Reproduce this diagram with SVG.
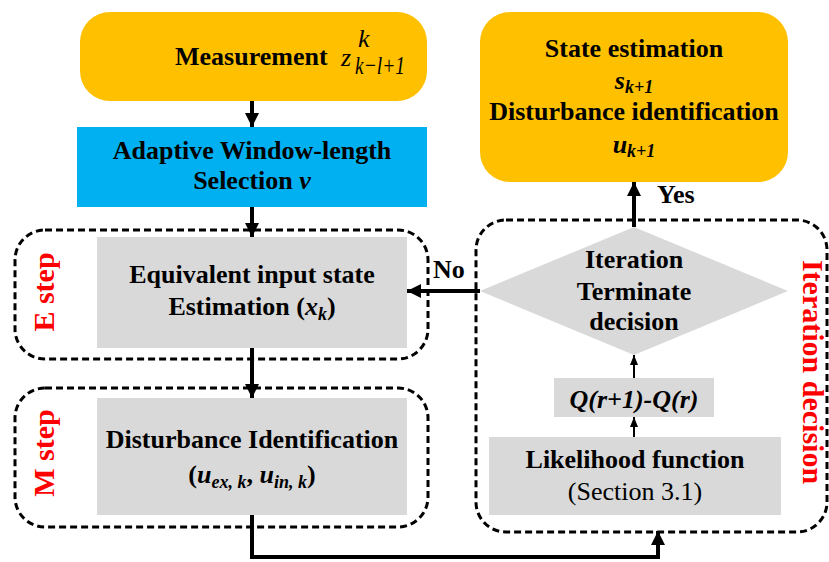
<svg xmlns="http://www.w3.org/2000/svg" width="829" height="562" viewBox="0 0 829 562" font-family="Liberation Serif">
<style>
.t{font-weight:bold;font-size:26px;fill:#000;}
.n{font-weight:normal;}
.i{font-style:italic;}
.red{font-weight:bold;font-size:30px;fill:#FF0000;}
.dash{fill:none;stroke:#000;stroke-width:3;stroke-dasharray:7 4;}
.gray{fill:#D9D9D9;}
.thick{fill:none;stroke:#000;stroke-width:4;}
.thin{fill:none;stroke:#000;stroke-width:2;}
</style>
<defs>
<marker id="ah" markerUnits="userSpaceOnUse" markerWidth="14" markerHeight="16" refX="14" refY="7" orient="auto">
<path d="M0,0 L14,7 L0,14 Z" fill="#000"/>
</marker>
<marker id="ahs" markerUnits="userSpaceOnUse" markerWidth="10" markerHeight="8" refX="10" refY="4" orient="auto">
<path d="M0,0 L10,4 L0,8 Z" fill="#000"/>
</marker>
</defs>

<g id="measurement">
<rect x="80" y="12" width="347" height="89" rx="30" fill="#FFC000"/>
<text class="t" x="175" y="65" font-family="Liberation Serif">Measurement</text>
<text class="t n i" x="341" y="66" font-size="30" font-family="Liberation Serif">z</text>
<text class="t n i" x="358" y="47" font-size="20" font-family="Liberation Serif">k</text>
<text class="t n i" x="355" y="74" font-size="19" font-family="Liberation Serif" textLength="50" lengthAdjust="spacingAndGlyphs">k−l+1</text>
</g>

<g id="adaptive">
<rect x="77" y="127" width="350" height="80" fill="#00B0F0"/>
<text class="t" x="252" y="159" text-anchor="middle" font-family="Liberation Serif">Adaptive Window-length</text>
<text class="t" x="252" y="189" text-anchor="middle" font-family="Liberation Serif">Selection <tspan class="i">v</tspan></text>
</g>

<g id="e-step">
<rect class="dash" x="15" y="230" width="413" height="129" rx="30"/>
<rect class="gray" x="97" y="237" width="310" height="111"/>
<text class="t" x="252" y="283" text-anchor="middle" font-family="Liberation Serif">Equivalent input state</text>
<text class="t" x="252" y="315" text-anchor="middle" font-family="Liberation Serif">Estimation (<tspan class="i">x</tspan><tspan class="i" font-size="18" dy="5">k</tspan><tspan dy="-5">)</tspan></text>
<text class="red" x="54" y="292" text-anchor="middle" transform="rotate(-90 54 292)" font-family="Liberation Serif">E step</text>
</g>

<g id="m-step">
<rect class="dash" x="15" y="388" width="413" height="139" rx="30"/>
<rect class="gray" x="97" y="398" width="310" height="117"/>
<text class="t" x="252" y="448" text-anchor="middle" font-family="Liberation Serif">Disturbance Identification</text>
<text class="t" x="252" y="483" text-anchor="middle" font-family="Liberation Serif">(<tspan class="i">u</tspan><tspan class="i" font-size="18" dy="5">ex, k</tspan><tspan dy="-5">, </tspan><tspan class="i">u</tspan><tspan class="i" font-size="18" dy="5">in, k</tspan><tspan dy="-5">)</tspan></text>
<text class="red" x="54" y="453" text-anchor="middle" transform="rotate(-90 54 453)" font-family="Liberation Serif">M step</text>
</g>

<g id="result">
<rect x="480" y="12" width="308" height="170" rx="30" fill="#FFC000"/>
<text class="t" x="634" y="57" text-anchor="middle" font-family="Liberation Serif">State estimation</text>
<text class="t i" x="634" y="89" text-anchor="middle" font-family="Liberation Serif">s<tspan font-size="18" dy="4">k+1</tspan></text>
<text class="t" x="634" y="120" text-anchor="middle" font-family="Liberation Serif">Disturbance identification</text>
<text class="t i" x="634" y="153" text-anchor="middle" font-family="Liberation Serif">u<tspan font-size="18" dy="4">k+1</tspan></text>
</g>

<g id="iteration">
<rect class="dash" x="476" y="220" width="351" height="312" rx="30"/>
<text class="red" x="803" y="372" text-anchor="middle" transform="rotate(90 803 372)" font-family="Liberation Serif">Iteration decision</text>
</g>

<g id="decision">
<polygon class="gray" points="634,227 788,291 634,355 480,291"/>
<text class="t" x="634" y="268" text-anchor="middle" font-family="Liberation Serif">Iteration</text>
<text class="t" x="634" y="300" text-anchor="middle" font-family="Liberation Serif">Terminate</text>
<text class="t" x="634" y="330" text-anchor="middle" font-family="Liberation Serif">decision</text>
</g>

<g id="q-diff">
<rect class="gray" x="554" y="378" width="160" height="39"/>
<text class="t i" x="634" y="408" text-anchor="middle" font-family="Liberation Serif">Q(r+1)-Q(r)</text>
</g>

<g id="likelihood">
<rect class="gray" x="489" y="437" width="292" height="78"/>
<text class="t" x="635" y="468" text-anchor="middle" font-family="Liberation Serif">Likelihood function</text>
<text class="t n" x="635" y="500" text-anchor="middle" font-family="Liberation Serif">(Section 3.1)</text>
</g>

<g id="connectors">
<line class="thick" x1="252" y1="101" x2="252" y2="127" marker-end="url(#ah)"/>
<line class="thick" x1="252" y1="207" x2="252" y2="237" marker-end="url(#ah)"/>
<line class="thick" x1="252" y1="348" x2="252" y2="398" marker-end="url(#ah)"/>
<polyline class="thick" points="252,515 252,557 658,557 658,531" marker-end="url(#ah)"/>
<line class="thin" x1="634" y1="437" x2="634" y2="417" marker-end="url(#ahs)"/>
<line class="thin" x1="634" y1="378" x2="634" y2="355" marker-end="url(#ahs)"/>
<line class="thick" x1="634" y1="227" x2="634" y2="182" marker-end="url(#ah)"/>
<line class="thick" x1="480" y1="291" x2="407" y2="291" marker-end="url(#ah)"/>
<text class="t" x="657" y="203" font-family="Liberation Serif">Yes</text>
<text class="t" x="433" y="278" font-family="Liberation Serif">No</text>
</g>
</svg>
